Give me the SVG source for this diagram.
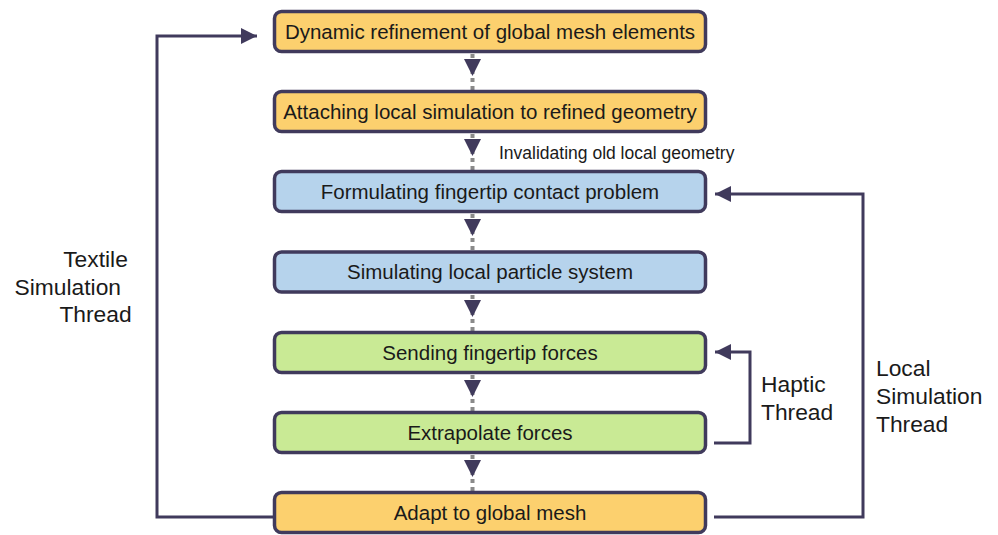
<svg xmlns="http://www.w3.org/2000/svg" width="998" height="535" viewBox="0 0 998 535">
<defs>
<style>
.box{stroke:#403a5c;stroke-width:3.5}
.orange{fill:#fcd06e}
.blue{fill:#b6d3ec}
.green{fill:#c9ea95}
.t{font-family:"Liberation Sans",Arial,sans-serif;font-size:20.5px;fill:#1a1a1a;text-anchor:middle}
.lbl{font-family:"Liberation Sans",Arial,sans-serif;font-size:22.8px;fill:#1a1a1a}
.small{font-family:"Liberation Sans",Arial,sans-serif;font-size:17.5px;fill:#1a1a1a}
.dash{stroke:#8a8a8a;stroke-width:4;stroke-dasharray:4,4;fill:none}
.tri{fill:#403a5c}
.loop{stroke:#403a5c;stroke-width:3;fill:none}
</style>
<marker id="ah" markerUnits="userSpaceOnUse" markerWidth="18" markerHeight="18" refX="16" refY="8" orient="auto">
<path d="M0,0 L16,8 L0,16 Z" fill="#403a5c"/>
</marker>
</defs>
<g id="connectors">
<line class="dash" x1="472.5" y1="54" x2="472.5" y2="90"/>
<polygon class="tri" points="464,59 481,59 472.5,76"/>
<line class="dash" x1="472.5" y1="134" x2="472.5" y2="170"/>
<polygon class="tri" points="464,139 481,139 472.5,156"/>
<line class="dash" x1="472.5" y1="214" x2="472.5" y2="250"/>
<polygon class="tri" points="464,219 481,219 472.5,236"/>
<line class="dash" x1="472.5" y1="295" x2="472.5" y2="331"/>
<polygon class="tri" points="464,300 481,300 472.5,317"/>
<line class="dash" x1="472.5" y1="375" x2="472.5" y2="411"/>
<polygon class="tri" points="464,380 481,380 472.5,397"/>
<line class="dash" x1="472.5" y1="455" x2="472.5" y2="491"/>
<polygon class="tri" points="464,460 481,460 472.5,477"/>
<path class="loop" d="M273,517 H157 V36 H257" marker-end="url(#ah)"/>
<path class="loop" d="M714,517 H863 V194 H715" marker-end="url(#ah)"/>
<path class="loop" d="M714,443 H750 V352 H715" marker-end="url(#ah)"/>
<text class="small" x="499" y="159">Invalidating old local geometry</text>
<text class="lbl" x="95.5" y="267" text-anchor="middle">Textile</text>
<text class="lbl" x="121" y="295" text-anchor="end">Simulation</text>
<text class="lbl" x="95.5" y="322" text-anchor="middle">Thread</text>
<text class="lbl" x="761" y="392">Haptic</text>
<text class="lbl" x="761" y="420">Thread</text>
<text class="lbl" x="876" y="376">Local</text>
<text class="lbl" x="876" y="404">Simulation</text>
<text class="lbl" x="876" y="432">Thread</text>
</g>
<g id="n1"><rect class="box orange" x="274.5" y="11.5" width="431" height="40" rx="7"/><text class="t" x="490" y="38.5">Dynamic refinement of global mesh elements</text></g>
<g id="n2"><rect class="box orange" x="274.5" y="91.5" width="431" height="40" rx="7"/><text class="t" x="490" y="118.5">Attaching local simulation to refined geometry</text></g>
<g id="n3"><rect class="box blue" x="274.5" y="171.5" width="431" height="40" rx="7"/><text class="t" x="490" y="198.5">Formulating fingertip contact problem</text></g>
<g id="n4"><rect class="box blue" x="274.5" y="252" width="431" height="40" rx="7"/><text class="t" x="490" y="279">Simulating local particle system</text></g>
<g id="n5"><rect class="box green" x="274.5" y="332.5" width="431" height="40" rx="7"/><text class="t" x="490" y="359.5">Sending fingertip forces</text></g>
<g id="n6"><rect class="box green" x="274.5" y="412.5" width="431" height="40" rx="7"/><text class="t" x="490" y="439.5">Extrapolate forces</text></g>
<g id="n7"><rect class="box orange" x="274.5" y="492.5" width="431" height="40" rx="7"/><text class="t" x="490" y="519.5">Adapt to global mesh</text></g>
</svg>
